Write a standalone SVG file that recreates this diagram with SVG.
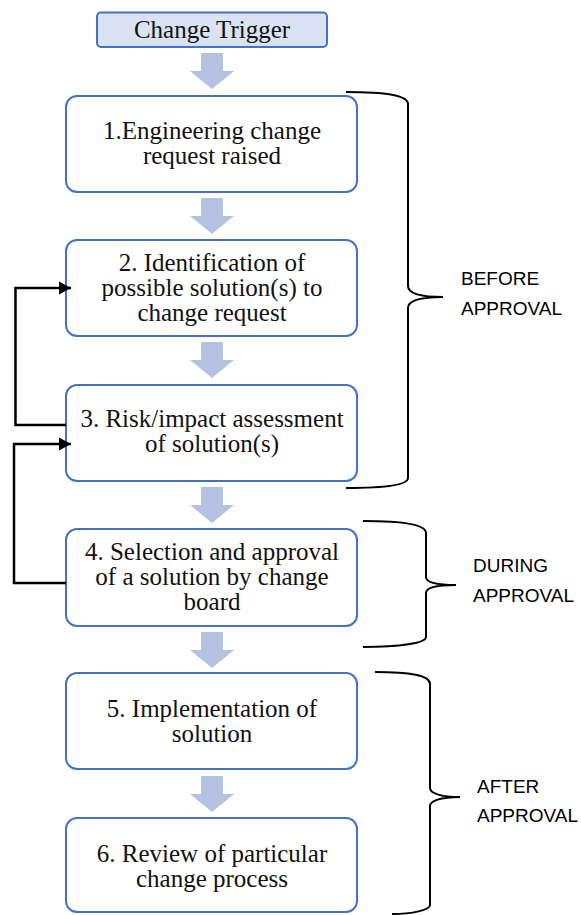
<svg xmlns="http://www.w3.org/2000/svg" width="581" height="915" viewBox="0 0 581 915">
  <style>
    .box { fill: #ffffff; stroke: #4472c4; stroke-width: 2; }
    .trigger { fill: #dae3f3; stroke: #4472c4; stroke-width: 2; }
    .step { font-family: "Liberation Serif", Tinos, "Times New Roman", "DejaVu Serif", serif; font-size: 25px; fill: #111111; text-anchor: middle; }
    .flow { fill: #b4c1e1; stroke: none; }
    .loop { fill: none; stroke: #000000; stroke-width: 2.5; }
    .brace { fill: none; stroke: #000000; stroke-width: 2; }
    .phase { font-family: "Liberation Sans", Arial, sans-serif; font-size: 19px; fill: #000000; }
  </style>
  <defs>
    <marker id="head" markerUnits="userSpaceOnUse" markerWidth="14" markerHeight="14" refX="12" refY="7" orient="auto">
      <path d="M0,0.5 L12,7 L0,13.5 Z" fill="#000000"/>
    </marker>
    <path id="down" d="M-11,0 H11 V18 H22 L0,36 L-22,18 H-11 Z"/>
  </defs>
  <rect width="581" height="915" fill="#ffffff"/>

  <!-- block arrows between steps -->
  <g id="flow-arrows" class="flow">
    <use href="#down" transform="translate(212,53)"/>
    <use href="#down" transform="translate(212,198)"/>
    <use href="#down" transform="translate(212,342)"/>
    <use href="#down" transform="translate(212,487)"/>
    <use href="#down" transform="translate(212,632)"/>
    <use href="#down" transform="translate(212,776)"/>
  </g>

  <g id="trigger">
    <rect class="trigger" x="97" y="12.5" width="230" height="34.5" rx="4"/>
    <text class="step" x="212" y="37.5">Change Trigger</text>
  </g>

  <g id="step1">
    <rect class="box" x="66" y="96" width="291" height="96" rx="11"/>
    <text class="step" x="212" y="139">1.Engineering change</text>
    <text class="step" x="212" y="164">request raised</text>
  </g>

  <g id="step2">
    <rect class="box" x="66" y="240" width="291" height="96" rx="11"/>
    <text class="step" x="212" y="270.5">2. Identification of</text>
    <text class="step" x="212" y="295.5">possible solution(s) to</text>
    <text class="step" x="212" y="320.5">change request</text>
  </g>

  <g id="step3">
    <rect class="box" x="66" y="385" width="291" height="96" rx="11"/>
    <text class="step" x="212" y="427">3. Risk/impact assessment</text>
    <text class="step" x="212" y="452">of solution(s)</text>
  </g>

  <g id="step4">
    <rect class="box" x="66" y="529" width="291" height="97" rx="11"/>
    <text class="step" x="212" y="560">4. Selection and approval</text>
    <text class="step" x="212" y="585">of a solution by change</text>
    <text class="step" x="212" y="610">board</text>
  </g>

  <g id="step5">
    <rect class="box" x="66" y="673" width="291" height="96" rx="11"/>
    <text class="step" x="212" y="716.5">5. Implementation of</text>
    <text class="step" x="212" y="741.5">solution</text>
  </g>

  <g id="step6">
    <rect class="box" x="66" y="818" width="291" height="94" rx="11"/>
    <text class="step" x="212" y="862">6. Review of particular</text>
    <text class="step" x="212" y="887">change process</text>
  </g>

  <!-- feedback loops -->
  <g id="connectors">
    <path class="loop" d="M66,425 H15.5 V288 H71" marker-end="url(#head)"/>
    <path class="loop" d="M66,583 H14 V444 H71" marker-end="url(#head)"/>
  </g>

  <!-- phase braces -->
  <g id="phase-before">
    <path class="brace" d="M346,92 C385,92 408,95 408,104 V286 C408,293 420,297 443,297 C420,297 408,301 408,308 V478 C408,485 385,488 346,488"/>
    <text class="phase" x="461" y="285">BEFORE</text>
    <text class="phase" x="461" y="315">APPROVAL</text>
  </g>

  <g id="phase-during">
    <path class="brace" d="M363,521 C400,521 426,524 426,533 V577 C426,582 436,585 456,585 C436,585 426,588 426,593 V637 C426,643 400,647 363,647"/>
    <text class="phase" x="473" y="572">DURING</text>
    <text class="phase" x="473" y="602">APPROVAL</text>
  </g>

  <g id="phase-after">
    <path class="brace" d="M375,672 C410,672 430,675 430,684 V788 C430,793 440,797 460,797 C440,797 430,801 430,806 V905 C430,910 412,914 392,914"/>
    <text class="phase" x="477" y="793">AFTER</text>
    <text class="phase" x="477" y="822">APPROVAL</text>
  </g>
</svg>
